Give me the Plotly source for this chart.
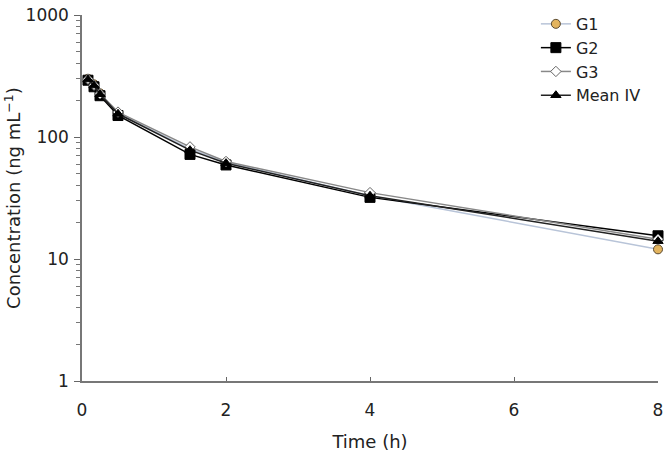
import plotly.graph_objects as go

# sampling times (h)
time_h = [0.083, 0.167, 0.25, 0.5, 1.5, 2, 4, 8]

# plasma concentrations (ng/mL)
g1 = [300, 270, 228, 156, 80, 62, 33, 12]
g2 = [292, 258, 218, 150, 72, 59, 32, 15.5]
g3 = [298, 266, 226, 160, 83, 63, 35, 14.5]
mean_iv = [296, 264, 224, 155, 78, 61, 33, 14]

series = [
    ("G1", g1, dict(symbol="circle", size=9, color="#e3b45e", line=dict(color="#5a4a30", width=1)), "#b8c4d8"),
    ("G2", g2, dict(symbol="square", size=10, color="black", line=dict(color="black", width=1)), "black"),
    ("G3", g3, dict(symbol="diamond", size=8, color="white", line=dict(color="#666666", width=1)), "#888888"),
    ("Mean IV", mean_iv, dict(symbol="triangle-up", size=9, color="black", line=dict(color="black", width=1)), "#222222"),
]

fig = go.Figure()
for name, vals, marker, lcol in series:
    fig.add_trace(go.Scatter(
        x=time_h, y=vals, name=name, mode="lines+markers",
        marker=marker, line=dict(color=lcol, width=1.5),
        cliponaxis=False,
    ))

font = dict(family="DejaVu Sans, Arial, sans-serif", size=17, color="#222222")

fig.update_layout(
    width=670, height=454,
    margin=dict(l=82, r=12, t=15, b=73, autoexpand=False),
    paper_bgcolor="white", plot_bgcolor="white",
    font=font,
    showlegend=True,
    legend=dict(x=0.788, y=1.022, xanchor="left", yanchor="top",
                bgcolor="rgba(0,0,0,0)", font=dict(size=16),
                itemwidth=30, tracegroupgap=0),
)

fig.update_xaxes(
    range=[0, 8], tickvals=[0, 2, 4, 6, 8],
    ticks="inside", ticklen=4, tickcolor="#666666",
    ticklabelstandoff=13, ticklabeloverflow="allow",
    showline=True, linecolor="#777777", linewidth=1.5,
    showgrid=False, zeroline=False, automargin=False,
    title=dict(text="Time (h)", standoff=16, font=dict(size=18)),
)

fig.update_yaxes(
    type="log", range=[0, 3],
    tickvals=[1, 10, 100, 1000], ticktext=["1", "10", "100", "1000"],
    ticks="outside", ticklen=6, tickcolor="#666666",
    ticklabelstandoff=2, ticklabeloverflow="allow",
    minor=dict(ticks="outside", ticklen=4, tickcolor="#777777", dtick="D1", showgrid=False),
    showline=True, linecolor="#777777", linewidth=1.5,
    showgrid=False, zeroline=False, automargin=False,
    title=dict(text="Concentration (ng mL<sup>\u22121</sup>)", standoff=0, font=dict(size=18)),
)

# drop the default page margin so the figure sits at the window's corner
fig.write_html("out.html", config={"displayModeBar": False},
               post_script="document.body.style.margin='0';")
